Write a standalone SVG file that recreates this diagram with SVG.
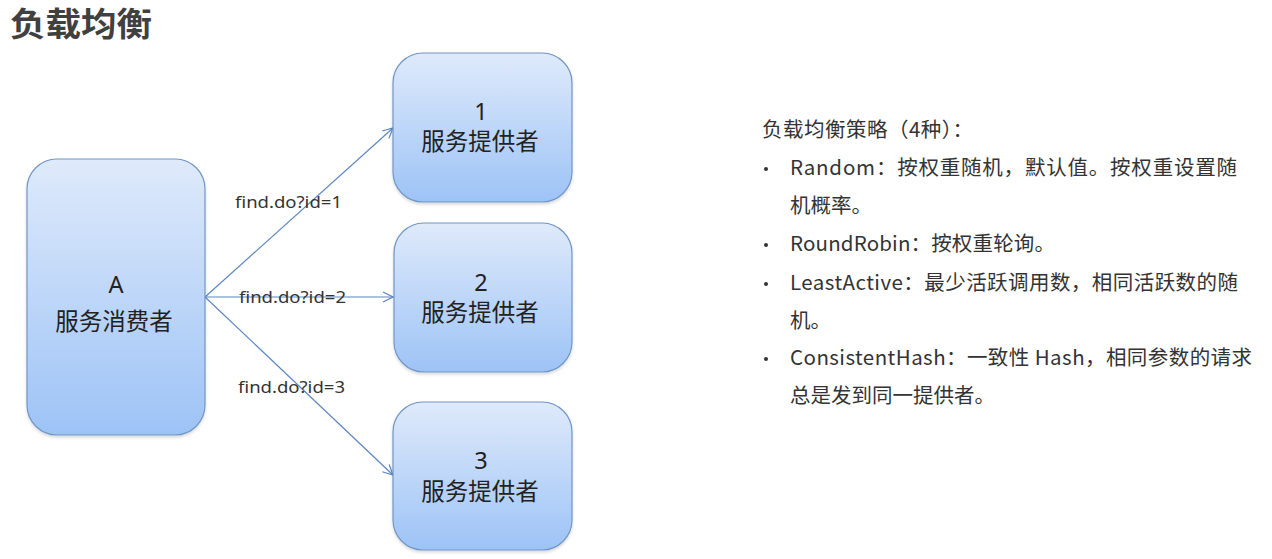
<svg xmlns="http://www.w3.org/2000/svg" width="1272" height="559" viewBox="0 0 1272 559">
<defs>
<linearGradient id="g" x1="0" y1="0" x2="0" y2="1">
<stop offset="0" stop-color="#dfeafb"/>
<stop offset="1" stop-color="#9dc3f6"/>
</linearGradient>
<marker id="arr" viewBox="0 0 12 12" refX="11" refY="6" markerWidth="12" markerHeight="12" markerUnits="userSpaceOnUse" orient="auto">
<path d="M1,1 L11,6 L1,11" fill="none" stroke="#5b86c0" stroke-width="1.2"/>
</marker>
<filter id="sh" x="-10%" y="-10%" width="120%" height="120%">
<feDropShadow dx="0" dy="2" stdDeviation="1.5" flood-color="#000" flood-opacity="0.15"/>
</filter>
</defs>
<style>
.box{fill:url(#g);stroke:#7196c6;stroke-width:1.2;filter:url(#sh)}
.nt{font-family:"Noto Sans","Noto Sans CJK SC",sans-serif;font-size:23.5px;fill:#222;text-anchor:middle}
.lbl{font-family:"Noto Sans",sans-serif;font-size:17px;fill:#333}
.con{stroke:#5b86c0;stroke-width:1.2;fill:none;marker-end:url(#arr)}
.rt{font-family:"Noto Sans CJK SC",sans-serif;font-size:20.5px;fill:#333}
</style>
<rect width="1272" height="559" fill="#fff"/>
<text x="10" y="36" font-family="Noto Sans CJK SC,sans-serif" font-size="33" font-weight="bold" fill="#404040" textLength="142" lengthAdjust="spacingAndGlyphs">负载均衡</text>

<g id="connectors">
<line class="con" x1="205" y1="297" x2="393" y2="128"/>
<line class="con" x1="205" y1="297" x2="393" y2="297"/>
<line class="con" x1="205" y1="297" x2="393" y2="475"/>
<text class="lbl" x="235" y="208" textLength="107" lengthAdjust="spacingAndGlyphs">find.do?id=1</text>
<text class="lbl" x="239" y="303" textLength="107" lengthAdjust="spacingAndGlyphs">find.do?id=2</text>
<text class="lbl" x="238" y="393" textLength="107" lengthAdjust="spacingAndGlyphs">find.do?id=3</text>
</g>

<g id="nodeA">
<rect class="box" x="27" y="159" width="178" height="276" rx="30"/>
<text class="nt" x="116" y="293">A</text>
<text class="nt" x="114" y="330">服务消费者</text>
</g>
<g id="node1">
<rect class="box" x="393" y="53" width="179" height="149" rx="30"/>
<text class="nt" x="481" y="120">1</text>
<text class="nt" x="480" y="150">服务提供者</text>
</g>
<g id="node2">
<rect class="box" x="394" y="223" width="178" height="149" rx="30"/>
<text class="nt" x="481" y="291">2</text>
<text class="nt" x="480" y="321">服务提供者</text>
</g>
<g id="node3">
<rect class="box" x="393" y="402" width="179" height="148" rx="30"/>
<text class="nt" x="481" y="469">3</text>
<text class="nt" x="480" y="500">服务提供者</text>
</g>

<g id="notes">
<text class="rt" x="762" y="137" textLength="211" lengthAdjust="spacing">负载均衡策略（4种）：</text>
<g fill="#333">
<circle cx="766" cy="169" r="2"/>
<circle cx="766" cy="245" r="2"/>
<circle cx="766" cy="284" r="2"/>
<circle cx="766" cy="359" r="2"/>
</g>
<text class="rt" x="790" y="175" textLength="447" lengthAdjust="spacing">Random：按权重随机，默认值。按权重设置随</text>
<text class="rt" x="790" y="213">机概率。</text>
<text class="rt" x="790" y="251" textLength="265" lengthAdjust="spacing">RoundRobin：按权重轮询。</text>
<text class="rt" x="790" y="290" textLength="448" lengthAdjust="spacing">LeastActive：最少活跃调用数，相同活跃数的随</text>
<text class="rt" x="790" y="328">机。</text>
<text class="rt" x="790" y="365" textLength="462" lengthAdjust="spacing">ConsistentHash：一致性 Hash，相同参数的请求</text>
<text class="rt" x="790" y="403">总是发到同一提供者。</text>
</g>
</svg>
